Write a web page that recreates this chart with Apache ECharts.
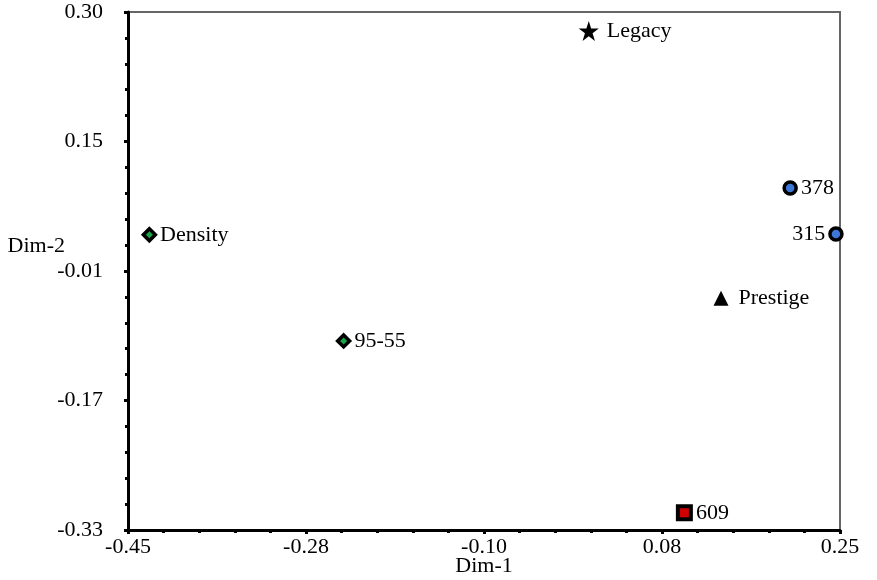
<!DOCTYPE html>
<html><head><meta charset="utf-8">
<script src="https://cdn.jsdelivr.net/npm/echarts@6/dist/echarts.min.js"></script>
<style>html,body{margin:0;padding:0;background:#fff}#c{width:877px;height:580px}</style>
</head><body><div id="c"></div>
<script>
const xTickLabels = ['-0.45','-0.28','-0.10','0.08','0.25'];
const yTickLabels = ['-0.33','-0.17','-0.01','0.15','0.30'];
const xRange = [-0.45, 0.25];
const yRange = [-0.33, 0.30];
const names = ['Legacy','378','315','Prestige','Density','95-55','609'];
const dim1 = [0.003, 0.201, 0.246, 0.133, -0.429, -0.238, 0.097];
const dim2 = [0.277, 0.086, 0.030, -0.048, 0.029, -0.100, -0.309];
const kinds = ['star','circle','circle','triangle','diamond','diamond','square'];

const FONT = 'Liberation Serif';
const FS = 22;
const starPath = 'path://M50,0 L61.8,36.2 L100,36.2 L69.1,58.8 L80.9,95.1 L50,72.7 L19.1,95.1 L30.9,58.8 L0,36.2 L38.2,36.2 Z';
const styles = {
  star: {symbol: starPath, size: 20, fill: '#000', border: '#000', bw: 0},
  circle: {symbol: 'circle', size: 12, fill: '#3b78d8', border: '#000', bw: 3.5},
  triangle: {symbol: 'triangle', size: 15, fill: '#000', border: '#000', bw: 0},
  diamond: {symbol: 'diamond', size: 12, fill: '#19a54a', border: '#000', bw: 3.5},
  square: {symbol: 'rect', size: 13, fill: '#d00000', border: '#000', bw: 4}
};
const data = names.map((n, i) => {
  const s = styles[kinds[i]];
  return {
    name: n, value: [dim1[i], dim2[i]],
    symbol: s.symbol, symbolSize: s.size,
    itemStyle: {color: s.fill, borderColor: s.border, borderWidth: s.bw, opacity: 1},
    label: {position: n === '315' ? 'left' : 'right', distance: n === 'Legacy' ? 8 : (n === 'Prestige' ? 10 : 3)}
  };
});

const chart = echarts.init(document.getElementById('c'));
const tickAxisCommon = {
  type: 'value', min: 0, max: 4, interval: 1,
  axisLine: {show: true, lineStyle: {color: '#000', width: 3}},
  axisTick: {show: true, length: 4, lineStyle: {color: '#000', width: 3}},
  minorTick: {show: true, splitNumber: 5, length: 3, lineStyle: {color: '#000', width: 3}},
  splitLine: {show: false},
  nameMoveOverlap: false
};
chart.setOption({
  animation: false,
  grid: {left: 128, right: 37, top: 12, bottom: 50, show: true, borderColor: '#666', borderWidth: 2,
    containLabel: false, outerBoundsMode: 'none'},
  xAxis: [
    Object.assign({}, tickAxisCommon, {
      position: 'bottom', name: 'Dim-1', nameLocation: 'middle', nameGap: 25,
      nameTextStyle: {fontFamily: FONT, fontSize: FS, color: '#000'},
      axisLabel: {fontFamily: FONT, fontSize: FS, color: '#000', margin: 6,
        formatter: v => xTickLabels[Math.round(v)]}
    }),
    {type: 'value', min: xRange[0], max: xRange[1], show: false}
  ],
  yAxis: [
    Object.assign({}, tickAxisCommon, {
      position: 'left', name: 'Dim-2', nameLocation: 'middle', nameGap: 63, nameRotate: 0,
      nameTextStyle: {fontFamily: FONT, fontSize: FS, color: '#000', verticalAlign: 'bottom', padding: [0, 0, 14, 0]},
      axisLabel: {fontFamily: FONT, fontSize: FS, color: '#000', margin: 25,
        formatter: v => yTickLabels[Math.round(v)]}
    }),
    {type: 'value', min: yRange[0], max: yRange[1], show: false}
  ],
  series: [{
    type: 'scatter', xAxisIndex: 1, yAxisIndex: 1, data: data,
    emphasis: {disabled: true},
    label: {show: true, formatter: '{b}', fontFamily: FONT, fontSize: FS, color: '#000'}
  }]
});
</script></body></html>
